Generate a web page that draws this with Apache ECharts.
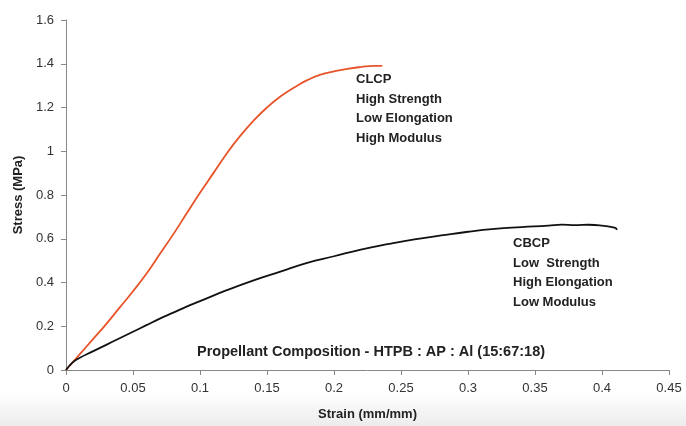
<!DOCTYPE html>
<html>
<head>
<meta charset="utf-8">
<script src="https://cdn.jsdelivr.net/npm/echarts@6/dist/echarts.min.js"></script>
<style>
  html, body { margin: 0; padding: 0; background: #fff; }
  #chart { width: 686px; height: 426px; }
</style>
</head>
<body>
<div id="chart"></div>
<script>
// CLCP - high strength curve (strain, stress)
var clcpStrain = [0, 0.01, 0.02, 0.03, 0.04, 0.05, 0.06, 0.07, 0.08, 0.09, 0.10, 0.11, 0.12, 0.13, 0.14, 0.15, 0.16, 0.17, 0.18, 0.19, 0.20, 0.21, 0.22, 0.23, 0.236]
var clcpStress = [0, 0.07, 0.14, 0.21, 0.285, 0.36, 0.44, 0.53, 0.62, 0.715, 0.81, 0.90, 0.99, 1.07, 1.14, 1.20, 1.25, 1.29, 1.325, 1.35, 1.365, 1.377, 1.385, 1.39, 1.39]

// CBCP - low strength curve
var cbcpStrain = [0, 0.005, 0.01, 0.02, 0.03, 0.04, 0.05, 0.06, 0.07, 0.08, 0.09, 0.10, 0.12, 0.14, 0.16, 0.18, 0.20, 0.22, 0.24, 0.26, 0.28, 0.30, 0.32, 0.34, 0.36, 0.37, 0.38, 0.39, 0.40, 0.41, 0.411]
var cbcpStress = [0, 0.035, 0.055, 0.085, 0.115, 0.145, 0.175, 0.205, 0.235, 0.262, 0.29, 0.315, 0.365, 0.41, 0.45, 0.49, 0.52, 0.55, 0.575, 0.597, 0.615, 0.632, 0.645, 0.653, 0.66, 0.665, 0.662, 0.664, 0.66, 0.65, 0.64]

var clcpNotes = ['CLCP', 'High Strength', 'Low Elongation', 'High Modulus']
var cbcpNotes = ['CBCP', 'Low  Strength', 'High Elongation', 'Low Modulus']
var compositionText = 'Propellant Composition - HTPB : AP : Al (15:67:18)'

function pairs(xs, ys) {
  var out = []
  for (var i = 0; i < xs.length; i++) {
    out.push([xs[i], ys[i]])
  }
  return out
}

var chart = echarts.init(document.getElementById('chart'))
var font = '"Liberation Sans", Arial, sans-serif'
var noteStyle = { fontFamily: font, fontSize: 13, fontWeight: 'bold', fill: '#222', lineHeight: 19.5 }

var option = {
  animation: false,
  backgroundColor: '#fff',
  grid: { left: 66, right: 17, top: 20, bottom: 56 },
  xAxis: {
    type: 'value',
    min: 0,
    max: 0.45,
    interval: 0.05,
    name: 'Strain (mm/mm)',
    nameLocation: 'middle',
    nameGap: 38,
    nameTextStyle: { fontFamily: font, fontSize: 13, fontWeight: 'bold', color: '#222' },
    axisLine: { lineStyle: { color: '#888', width: 1 } },
    axisTick: { show: true, length: 5, lineStyle: { color: '#888' } },
    axisLabel: { fontFamily: font, fontSize: 13, color: '#333', margin: 12 },
    splitLine: { show: false }
  },
  yAxis: {
    type: 'value',
    min: 0,
    max: 1.6,
    interval: 0.2,
    name: 'Stress (MPa)',
    nameLocation: 'middle',
    nameGap: 40,
    nameTextStyle: { fontFamily: font, fontSize: 13, fontWeight: 'bold', color: '#222' },
    axisLine: { show: true, lineStyle: { color: '#888', width: 1 } },
    axisTick: { show: true, length: 5, lineStyle: { color: '#888' } },
    axisLabel: { fontFamily: font, fontSize: 13, color: '#333', margin: 12 },
    splitLine: { show: false }
  },
  series: [
    {
      name: 'CLCP',
      type: 'line',
      data: pairs(clcpStrain, clcpStress),
      smooth: true,
      showSymbol: false,
      lineStyle: { color: '#e8542a', width: 1.8 }
    },
    {
      name: 'CBCP',
      type: 'line',
      data: pairs(cbcpStrain, cbcpStress),
      smooth: true,
      showSymbol: false,
      lineStyle: { color: '#111', width: 1.8 }
    }
  ],
  graphic: [
    {
      type: 'rect', left: 0, top: 392, z: -10, silent: true,
      shape: { width: 686, height: 34 },
      style: {
        fill: new echarts.graphic.LinearGradient(0, 0, 0, 1, [
          { offset: 0, color: '#ffffff' },
          { offset: 1, color: '#ececec' }
        ])
      }
    },
    { type: 'text', left: 356, top: 70, style: Object.assign({ text: clcpNotes.join('\n') }, noteStyle) },
    { type: 'text', left: 513, top: 234, style: Object.assign({ text: cbcpNotes.join('\n') }, noteStyle) },
    { type: 'text', left: 197, top: 342, style: Object.assign({ text: compositionText }, noteStyle, { fontSize: 14.5 }) }
  ]
}

chart.setOption(option)
</script>
</body>
</html>
